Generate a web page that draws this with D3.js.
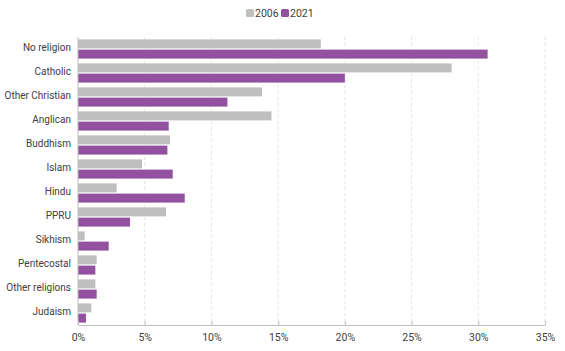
<!DOCTYPE html>
<html lang="en">
<head>
	<meta charset="UTF-8">
	<title>religion bars</title>
	<style>
		body { margin: 0; background: #fff; }
		text { font-family: Roboto, "Liberation Sans", sans-serif; fill: #404040; }
	</style>
</head>
<body>
	<svg id="container" width="565" height="351"></svg>
</body>
<script src="https://cdn.jsdelivr.net/npm/d3@7"></script>
<script>
	let categories = ["No religion", "Catholic", "Other Christian", "Anglican", "Buddhism", "Islam",
		"Hindu", "PPRU", "Sikhism", "Pentecostal", "Other religions", "Judaism"]
	let series = ["2006", "2021"]
	let values2006 = [18.2, 28.0, 13.8, 14.5, 6.9, 4.8, 2.9, 6.6, 0.5, 1.4, 1.3, 1.0]
	let values2021 = [30.7, 20.0, 11.2, 6.8, 6.7, 7.1, 8.0, 3.9, 2.3, 1.3, 1.4, 0.6]
	let ticks = [0, 5, 10, 15, 20, 25, 30, 35]
	let colors = ["#bfbfbf", "#9351a0"]

	let svg = d3.select("#container")
	let margin = {top: 37, left: 78}

	let x = d3.scaleLinear().domain([0, 35]).range([margin.left, 545])
	let y = d3.scaleBand().domain(categories).range([margin.top, 325]).paddingInner(0.2).paddingOuter(0.1)
	let inner = d3.scaleBand().domain(series).range([0, y.bandwidth()]).paddingInner(0.12)

	// grid
	svg.append("g").selectAll("line")
		.data(ticks.slice(1))
		.enter()
		.append("line")
		.attr("x1", d => x(d)).attr("x2", d => x(d))
		.attr("y1", margin.top).attr("y2", 325)
		.attr("stroke", "#e3e3e3")
		.attr("stroke-dasharray", "3,3")

	let rows = categories.map((c, i) => ({cat: c, vals: [values2006[i], values2021[i]]}))

	let groups = svg.append("g").selectAll("g")
		.data(rows)
		.enter()
		.append("g")
		.attr("transform", d => "translate(0," + y(d.cat) + ")")

	groups.selectAll("rect")
		.data(d => d.vals.map((v, i) => ({s: series[i], v: v, c: colors[i]})))
		.enter()
		.append("rect")
		.attr("x", x(0))
		.attr("y", d => inner(d.s))
		.attr("width", d => x(d.v) - x(0))
		.attr("height", inner.bandwidth())
		.attr("fill", d => d.c)

	// x axis
	let xAxis = svg.append("g")
		.attr("transform", "translate(0,325)")
		.call(d3.axisBottom(x).tickValues(ticks).tickFormat(d => d + "%").tickSize(4).tickSizeOuter(0))
	xAxis.select(".domain").attr("stroke", "#bfbfbf")
	xAxis.selectAll(".tick line").attr("stroke", "#bfbfbf").attr("transform", "translate(0,-4)")
	xAxis.selectAll(".tick text").attr("font-size", 10.5).attr("dy", "0.9em").attr("fill", "#404040")

	// y axis
	let yAxis = svg.append("g")
		.attr("transform", "translate(" + x(0) + ",0)")
		.call(d3.axisLeft(y).tickSize(0).tickPadding(7))
	yAxis.select(".domain").attr("stroke", "#bfbfbf").attr("d", "M0," + margin.top + "V325")
	yAxis.selectAll(".tick text").attr("font-size", 10).attr("fill", "#404040").attr("dy", "0.2em")

	// legend
	let legend = svg.append("g").attr("transform", "translate(246,9)")
	let lx = [0, 35]
	series.forEach((s, i) => {
		legend.append("rect").attr("x", lx[i]).attr("y", 0).attr("width", 8).attr("height", 8)
			.attr("rx", 1.5).attr("fill", colors[i])
		legend.append("text").attr("x", lx[i] + 9).attr("y", 8).attr("font-size", 10.5).text(s)
	})
</script>
</html>
